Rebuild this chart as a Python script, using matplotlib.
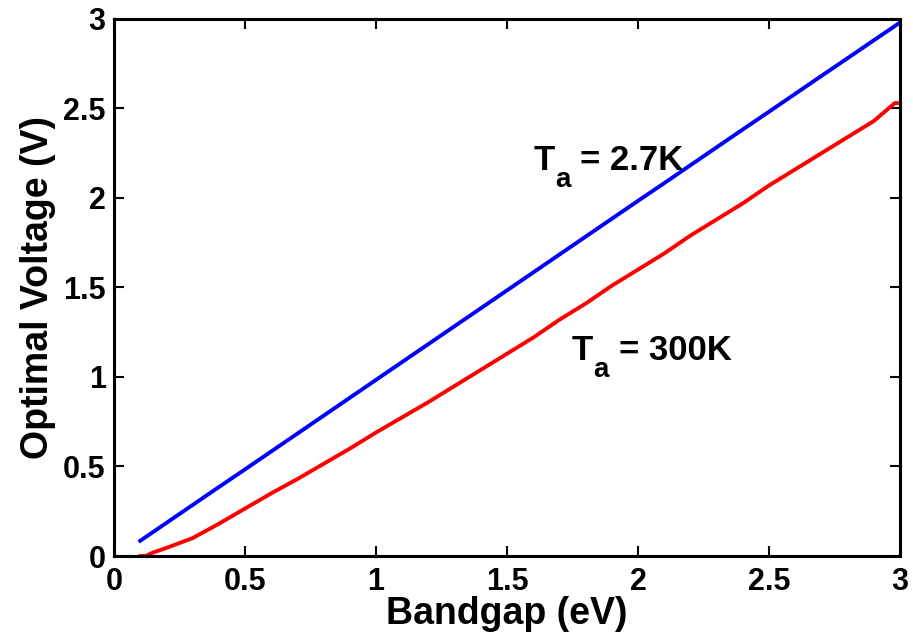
import matplotlib.pyplot as plt

bandgap = [0.10, 0.20, 0.30, 0.40, 0.50, 0.60, 0.70, 0.80, 0.90, 1.00,
           1.10, 1.20, 1.30, 1.40, 1.50, 1.60, 1.70, 1.80, 1.90, 2.00,
           2.10, 2.20, 2.30, 2.40, 2.50, 2.60, 2.70, 2.80, 2.90, 3.00]
v_cold = [0.085, 0.185, 0.285, 0.385, 0.484, 0.584, 0.684, 0.784, 0.884, 0.984,
          1.084, 1.184, 1.284, 1.384, 1.484, 1.584, 1.684, 1.784, 1.884, 1.984,
          2.083, 2.183, 2.283, 2.383, 2.482, 2.582, 2.682, 2.781, 2.881, 2.980]

bandgap_hot = [0.10, 0.12, 0.15, 0.20, 0.30, 0.40, 0.50, 0.60, 0.70, 0.80, 0.90, 1.00,
               1.10, 1.20, 1.30, 1.40, 1.50, 1.60, 1.70, 1.80, 1.90, 2.00,
               2.10, 2.20, 2.30, 2.40, 2.50, 2.60, 2.70, 2.80, 2.90, 2.94, 2.98, 3.00]
v_hot = [0.00, 0.00, 0.02, 0.045, 0.10, 0.18, 0.265, 0.35, 0.43, 0.515, 0.60, 0.69,
         0.775, 0.86, 0.95, 1.04, 1.13, 1.22, 1.32, 1.41, 1.51, 1.60,
         1.69, 1.79, 1.88, 1.97, 2.07, 2.16, 2.25, 2.34, 2.43, 2.48, 2.53, 2.53]

ticks = [0, 0.5, 1, 1.5, 2, 2.5, 3]
tick_labels = ['0', '0.5', '1', '1.5', '2', '2.5', '3']

plt.rcParams['font.family'] = ['Liberation Sans', 'DejaVu Sans']
plt.rcParams['font.weight'] = 'bold'

fig = plt.figure(figsize=(9.13, 6.43), dpi=100)
ax = fig.add_axes([0.1249, 0.1353, 0.8609, 0.8352])

ax.plot(bandgap, v_cold, color='#0000ff', linewidth=2.8)
ax.plot(bandgap_hot, v_hot, color='#ff0000', linewidth=2.8)

ax.set_xlim(0, 3)
ax.set_ylim(0, 3)
ax.set_xticks(ticks)
ax.set_xticklabels(tick_labels)
ax.set_yticks(ticks)
ax.set_yticklabels(tick_labels)
ax.tick_params(direction='in', length=7, width=1.5, top=True, right=True,
               labelsize=22)
ax.tick_params(axis='x', pad=8)
ax.tick_params(axis='y', pad=6)
for sp in ax.spines.values():
    sp.set_linewidth(2.2)

ax.set_xlabel('Bandgap (eV)', fontsize=27, fontweight='bold', labelpad=-1)
ax.set_ylabel('Optimal Voltage (V)', fontsize=27, fontweight='bold', labelpad=5)


def temp_label(x, y, value):
    # T with a dropped subscript a, then the value
    ax.text(x, y, 'T', fontsize=25, fontweight='bold', va='baseline')
    ax.annotate('a', (x, y), xytext=(15.5, -12), textcoords='offset points',
                fontsize=20, fontweight='bold', va='baseline')
    ax.annotate('= ' + value, (x, y), xytext=(34, 0), textcoords='offset points',
                fontsize=25, fontweight='bold', va='baseline')


temp_label(1.60, 2.156, '2.7K')
temp_label(1.748, 1.095, '300K')

fig.savefig('out.png', dpi=100, facecolor='white')
